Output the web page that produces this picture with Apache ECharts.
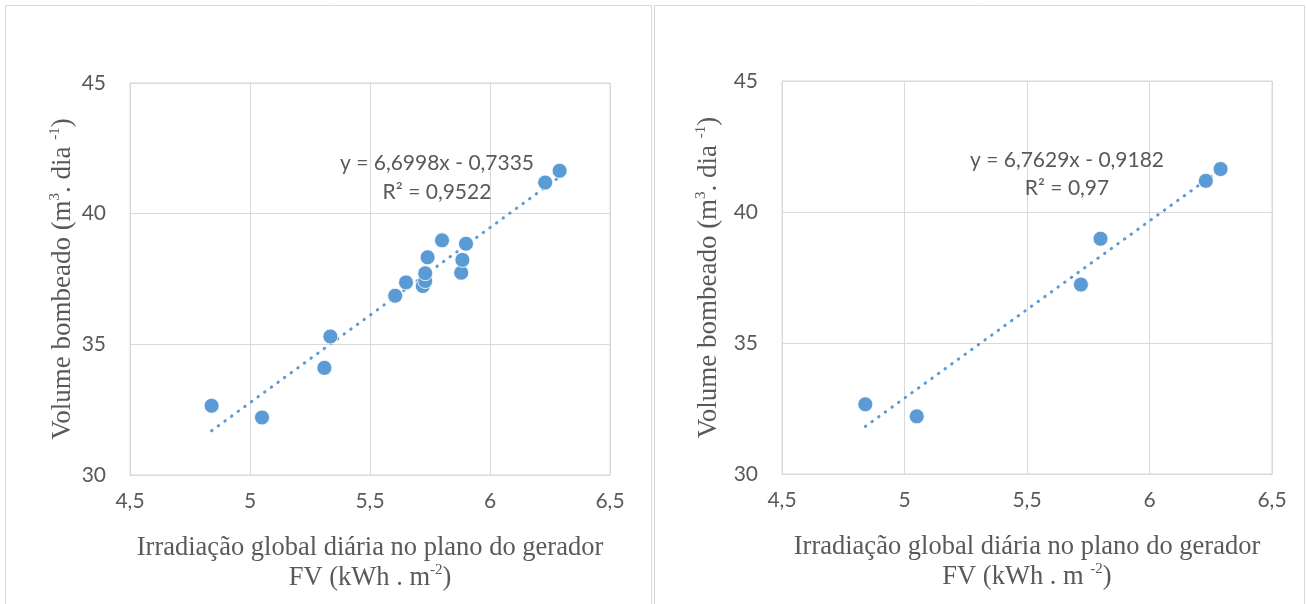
<!DOCTYPE html>
<html>
<head>
<meta charset="utf-8">
<script src="https://cdn.jsdelivr.net/npm/echarts@6/dist/echarts.min.js"></script>
<style>
html,body{margin:0;padding:0;background:#fff;}
#chart{width:1306px;height:604px;}
</style>
</head>
<body>
<div id="chart"></div>
<script>
// ---- data ----
const leftX = [4.84, 5.05, 5.31, 5.335, 5.605, 5.65, 5.72, 5.73, 5.73, 5.74, 5.80, 5.88, 5.885, 5.90, 6.23, 6.29];
const leftY = [32.65, 32.2, 34.1, 35.3, 36.86, 37.37, 37.23, 37.42, 37.72, 38.33, 38.98, 37.74, 38.23, 38.85, 41.19, 41.64];
const rightX = [4.84, 5.05, 5.72, 5.80, 6.23, 6.29];
const rightY = [32.66, 32.2, 37.23, 38.98, 41.19, 41.64];
const leftFit = {slope: 6.6998, intercept: -0.7335, r2: '0,9522'};
const rightFit = {slope: 6.7629, intercept: -0.9182, r2: '0,97'};
const xTicks = [4.5, 5, 5.5, 6, 6.5];
const yTicks = [30, 35, 40, 45];

// ---- helpers ----
const pairs = (xs, ys) => xs.map((x, i) => [x, ys[i]]);
const fitLine = (xs, f) => {
  const a = Math.min(...xs), b = Math.max(...xs);
  return [[a, f.slope * a + f.intercept], [b, f.slope * b + f.intercept]];
};
const fmt = v => String(v).replace('.', ',');
const eqText = f => 'y = ' + fmt(f.slope) + 'x - ' + fmt(Math.abs(f.intercept));

const grey = '#d9d9d9';
const txt = '#595959';
const blue = '#5B9BD5';
const tickFont = 'Lato';
const serif = 'Liberation Serif';

const supRich = {
  sup: {fontFamily: serif, fontSize: 15, color: txt, verticalAlign: 'top', lineHeight: 15}
};

function xAxis(gi) {
  return {
    type: 'value', gridIndex: gi, min: xTicks[0], max: xTicks[xTicks.length - 1], interval: 0.5,
    axisLine: {show: true, lineStyle: {color: grey, width: 1}},
    axisTick: {show: false},
    splitLine: {show: true, lineStyle: {color: grey, width: 1}},
    axisLabel: {color: txt, fontFamily: tickFont, fontSize: 21, margin: 16, formatter: v => fmt(v)},
    name: 'Irradiação global diária no plano do gerador\nFV (kWh . m' + (gi === 0 ? '{sup|-2})' : ' {sup|-2})'),
    nameLocation: 'middle', nameGap: 58,
    nameTextStyle: {fontFamily: serif, fontSize: 26.5, color: txt, lineHeight: 30, rich: supRich}
  };
}
function yAxis(gi, gap) {
  return {
    type: 'value', gridIndex: gi, min: yTicks[0], max: yTicks[yTicks.length - 1], interval: 5,
    axisLine: {show: true, lineStyle: {color: grey, width: 1}},
    axisTick: {show: false},
    splitLine: {show: true, lineStyle: {color: grey, width: 1}},
    axisLabel: {color: txt, fontFamily: tickFont, fontSize: 21, margin: 24},
    name: 'Volume bombeado (m{sup|3}. dia {sup|-1})',
    nameLocation: 'middle', nameRotate: 90, nameGap: gap,
    nameTextStyle: {fontFamily: serif, fontSize: 27, color: txt, lineHeight: 30, rich: supRich}
  };
}
function scatter(gi, xs, ys) {
  return {
    type: 'scatter', xAxisIndex: gi, yAxisIndex: gi, data: pairs(xs, ys),
    symbol: 'circle', symbolSize: 15, z: 3,
    itemStyle: {color: blue, borderColor: '#fff', borderWidth: 0.8, opacity: 1}
  };
}
function trend(gi, xs, f) {
  return {
    type: 'line', xAxisIndex: gi, yAxisIndex: gi, data: fitLine(xs, f),
    symbol: 'none', z: 2, silent: true,
    lineStyle: {color: blue, width: 3, type: [0.5, 7.7], cap: 'round'}
  };
}
function eqLabel(cx, y1, y2, f) {
  return [
    {type: 'text', x: cx, y: y1, style: {text: eqText(f), font: '21px Lato', fill: txt, align: 'center', verticalAlign: 'middle'}, z: 10},
    {type: 'text', x: cx, y: y2, style: {text: 'R² = ' + f.r2, font: '21px Lato', fill: txt, align: 'center', verticalAlign: 'middle'}, z: 10}
  ];
}

const chart = echarts.init(document.getElementById('chart'), null, {renderer: 'canvas'});
chart.setOption({
  backgroundColor: '#fff',
  animation: false,
  grid: [
    {left: 130, top: 83, width: 480, height: 392, show: true, borderColor: grey, borderWidth: 1},
    {left: 782, top: 81, width: 490, height: 393, show: true, borderColor: grey, borderWidth: 1}
  ],
  xAxis: [xAxis(0), xAxis(1)],
  yAxis: [yAxis(0, 43), yAxis(1, 58)],
  series: [
    trend(0, leftX, leftFit), scatter(0, leftX, leftY),
    trend(1, rightX, rightFit), scatter(1, rightX, rightY)
  ],
  graphic: [
    {type: 'rect', shape: {x: 5.5, y: 5.5, width: 646, height: 640}, style: {fill: 'none', stroke: grey, lineWidth: 1}, z: 0},
    {type: 'rect', shape: {x: 654.5, y: 5.5, width: 650, height: 640}, style: {fill: 'none', stroke: grey, lineWidth: 1}, z: 0},
    ...eqLabel(437, 163, 192, leftFit),
    ...eqLabel(1067, 160, 188, rightFit)
  ]
});
</script>
</body>
</html>
